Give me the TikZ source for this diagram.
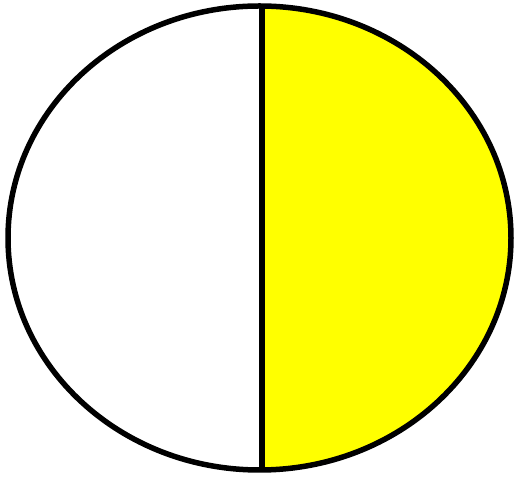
\documentclass[tikz,border=0pt]{standalone}
\usepackage{tikz}
\definecolor{lityellow}{RGB}{255,255,0}

\begin{document}
\begin{tikzpicture}[x=0.02cm, y=-0.02cm,
  rim/.style={draw=black, line width=0.11cm},
  lit/.style={fill=lityellow}
]

%% Frame
\useasboundingbox (0,0) rectangle (518,482);

%% Lit half
\begin{scope}
  \clip (262,0) rectangle (518,482);
  \fill[lit] (259.5,238) ellipse [x radius=251.5, y radius=232];
\end{scope}

%% Outline and terminator
\draw[rim] (259.5,238) ellipse [x radius=251.5, y radius=232];
\draw[rim] (262,6) -- (262,470);

\end{tikzpicture}
\end{document}
